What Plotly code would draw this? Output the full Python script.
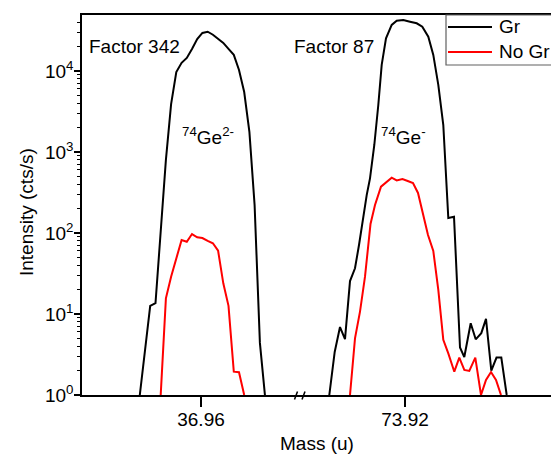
import plotly.graph_objects as go

# ---------------- data ----------------
# 74Ge2- region (left axis segment)
mass_left_gr = [36.8988, 36.9040, 36.9092, 36.9145, 36.9197, 36.9249, 36.9301, 36.9353,
                36.9406, 36.9458, 36.9510, 36.9562, 36.9614, 36.9667, 36.9719, 36.9771,
                36.9823, 36.9875, 36.9928, 36.9980, 37.0032, 37.0084, 37.0136, 37.0189,
                37.0241]
gr_left = [1.0, 3.8, 12.6, 13.6, 115, 800, 3900, 9700,
           12600, 14500, 18700, 24800, 29500, 30500, 28000, 24800,
           22200, 18700, 15800, 10300, 5500, 1770, 222, 4.4,
           0.95]

mass_left_nogr = [36.9197, 36.9249, 36.9301, 36.9353, 36.9406, 36.9458, 36.9510, 36.9562,
                  36.9614, 36.9667, 36.9719, 36.9771, 36.9823, 36.9875, 36.9928, 36.9980,
                  37.0032]
nogr_left = [1.0, 15.6, 28.9, 48.7, 82, 78, 97, 88.5,
             86.7, 80, 74.6, 60.4, 23.9, 12.6, 1.94, 1.91,
             1.0]

# 74Ge- region (right axis segment)
mass_right_gr = [73.8443, 73.8497, 73.8550, 73.8600, 73.8650, 73.8700, 73.8740, 73.8773,
                 73.8817, 73.8850, 73.8893, 73.8933, 73.8967, 73.9010, 73.9067, 73.9117,
                 73.9183, 73.9250, 73.9317, 73.9373, 73.9433, 73.9483, 73.9533, 73.9583,
                 73.9617, 73.9633, 73.9690, 73.9750, 73.9793, 73.9857, 73.9907, 73.9963,
                 74.0010, 74.0063, 74.0115, 74.0163, 74.0217]
gr_right = [1.0, 3.4, 6.9, 4.9, 25.5, 36.7, 71, 132,
            294, 473, 1220, 3800, 11900, 25300, 37000, 41800,
            42600, 40600, 38800, 35200, 26500, 15800, 6720, 2150,
            340, 153, 159, 3.86, 2.94, 7.68, 4.87, 5.8,
            8.7, 2.0, 2.9, 2.9, 1.0]

mass_right_nogr = [73.8650, 73.8700, 73.8750, 73.8800, 73.8855, 73.8900, 73.8960, 73.9017,
                   73.9067, 73.9117, 73.9175, 73.9227, 73.9280, 73.9330, 73.9375, 73.9430,
                   73.9483, 73.9533, 73.9583, 73.9633, 73.9693, 73.9743, 73.9793, 73.9843,
                   73.9903, 73.9960, 74.0010, 74.0060, 74.0110, 74.0160]
nogr_right = [1.0, 5.0, 10.7, 28.9, 129, 222, 373, 430,
              482, 445, 464, 439, 414, 312, 187, 94.5,
              60, 19.8, 4.8, 3.27, 1.94, 2.89, 2.04, 1.98,
              2.89, 1.0, 1.53, 1.92, 1.53, 1.0]

x_ticks_left = [36.96]
x_ticks_right = [73.92]
y_tickvals = [1, 10, 100, 1000, 10000]
y_ticktext = ["10<sup>0</sup>", "10<sup>1</sup>", "10<sup>2</sup>", "10<sup>3</sup>", "10<sup>4</sup>"]
y_minor = [k * 10 ** p for p in range(5) for k in range(2, 10)]

series_names = ["Gr", "No Gr"]
series_colors = ["#000000", "#ff0000"]

# ---------------- figure ----------------
FONT = "Liberation Sans, Arial, sans-serif"
fig = go.Figure()

fig.add_trace(go.Scatter(x=mass_left_gr, y=gr_left, mode="lines", name=series_names[0],
                         legendgroup="gr", line=dict(color=series_colors[0], width=2),
                         xaxis="x", yaxis="y"))
fig.add_trace(go.Scatter(x=mass_left_nogr, y=nogr_left, mode="lines", name=series_names[1],
                         legendgroup="nogr", line=dict(color=series_colors[1], width=2),
                         xaxis="x", yaxis="y"))
fig.add_trace(go.Scatter(x=mass_right_gr, y=gr_right, mode="lines", name=series_names[0],
                         legendgroup="gr", line=dict(color=series_colors[0], width=2),
                         xaxis="x2", yaxis="y"))
fig.add_trace(go.Scatter(x=mass_right_nogr, y=nogr_right, mode="lines", name=series_names[1],
                         legendgroup="nogr", line=dict(color=series_colors[1], width=2),
                         xaxis="x2", yaxis="y"))

W, H = 551, 454
L, R, T, B = 82, 0, 15, 59
pw, ph = W - L - R, H - T - B
split = (300 - L) / pw


def px(xp):
    return (xp - L) / pw


def py(yp):
    return (H - B - yp) / ph


axis_common = dict(showline=True, linecolor="black", linewidth=1.5, mirror=True,
                   ticks="outside", ticklen=10, tickwidth=1.5, tickcolor="black",
                   showgrid=False, zeroline=False, ticklabelstandoff=-4,
                   tickfont=dict(family=FONT, size=19, color="black"))

fig.update_layout(
    width=W, height=H,
    margin=dict(l=L, r=R, t=T, b=B, autoexpand=False),
    paper_bgcolor="white", plot_bgcolor="white",
    font=dict(family=FONT, size=19, color="black"),
    showlegend=False,
    xaxis=dict(domain=[0, split], range=[36.841, 37.059], tickmode="array",
               tickvals=x_ticks_left, ticktext=["36.96"], anchor="y", **axis_common),
    xaxis2=dict(domain=[split, 1], range=[73.815, 74.066], tickmode="array",
                tickvals=x_ticks_right, ticktext=["73.92"], anchor="y", **axis_common),
    yaxis=dict(type="log", range=[0, 4.691], tickmode="array", tickvals=y_tickvals,
               ticktext=y_ticktext, showline=True, linecolor="black", linewidth=1.5,
               mirror=False, ticks="outside", ticklen=6, tickwidth=1.5, tickcolor="black",
               ticklabelstandoff=-3,
               minor=dict(tickmode="array", tickvals=y_minor, ticks="outside", ticklen=3,
                          tickwidth=1, tickcolor="black", showgrid=False),
               showgrid=False, zeroline=False,
               tickfont=dict(family=FONT, size=19, color="black")),
)

annotations = [
    dict(text="Factor 342", x=px(87), y=py(46), xanchor="left", yanchor="middle"),
    dict(text="Factor 87", x=px(292), y=py(46), xanchor="left", yanchor="middle"),
    dict(text="<sup>74</sup>Ge<sup>2-</sup>", x=px(180), y=py(136), xanchor="left", yanchor="middle"),
    dict(text="<sup>74</sup>Ge<sup>-</sup>", x=px(379), y=py(136), xanchor="left", yanchor="middle"),
    dict(text="Mass (u)", x=px(316.5), y=py(443.5), xanchor="center", yanchor="middle"),
    dict(text="Intensity (cts/s)", x=px(27), y=py(212), xanchor="center", yanchor="middle",
         textangle=-90),
]
for a in annotations:
    fig.add_annotation(xref="paper", yref="paper", showarrow=False,
                       font=dict(family=FONT, size=19, color="black"), **a)

# axis break marks
for x0 in (294.5, 302):
    fig.add_shape(type="line", xref="paper", yref="paper",
                  x0=px(x0), y0=py(399.5), x1=px(x0 + 3), y1=py(391.5),
                  line=dict(color="black", width=1.5))

# legend box (runs past the right edge, as in the original)
fig.add_shape(type="rect", xref="paper", yref="paper",
              x0=px(446), x1=px(640), y0=py(65), y1=py(15),
              fillcolor="white", line=dict(color="#606060", width=1.2))
for i, (name, color) in enumerate(zip(series_names, series_colors)):
    yc = 27 + 25 * i
    fig.add_shape(type="line", xref="paper", yref="paper",
                  x0=px(448), x1=px(492), y0=py(yc), y1=py(yc),
                  line=dict(color=color, width=2))
    fig.add_annotation(xref="paper", yref="paper", showarrow=False, text=name,
                       x=px(497), y=py(yc), xanchor="left", yanchor="middle",
                       font=dict(family=FONT, size=19, color="black"))

fig.write_html(
    "out.html",
    config={"displayModeBar": False},
    post_script="document.body.style.margin='0';document.body.style.overflow='hidden';",
)
